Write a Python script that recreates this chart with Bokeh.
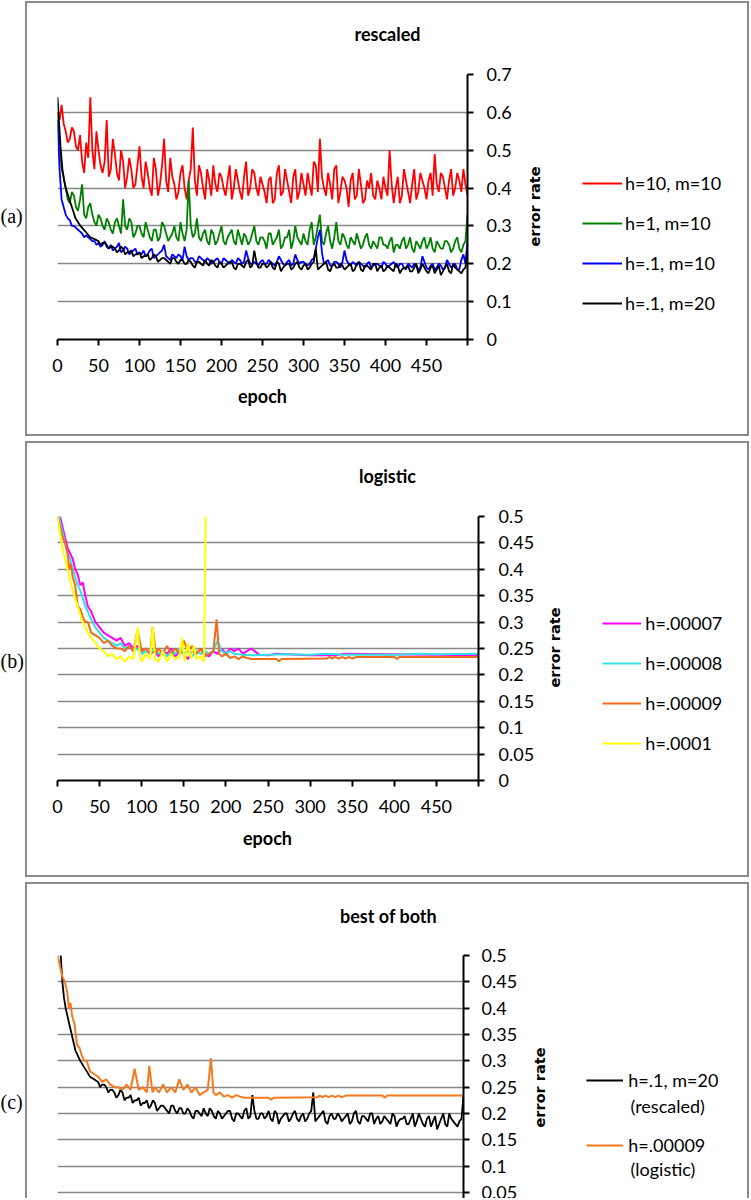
from bokeh.plotting import figure
from bokeh.models import (Range1d, FixedTicker, CustomJSTickFormatter, Label, Legend,
                          LegendItem, InlineStyleSheet)
from bokeh.embed import file_html
from bokeh.resources import INLINE
from math import pi

# ---------------- data ----------------
x_ticks = [0, 50, 100, 150, 200, 250, 300, 350, 400, 450, 500]
y_ticks_a = [0, 0.1, 0.2, 0.3, 0.4, 0.5, 0.6, 0.7]
y_ticks_bc = [0, 0.05, 0.1, 0.15, 0.2, 0.25, 0.3, 0.35, 0.4, 0.45, 0.5]

# panel (a) rescaled: readings at epochs 0,5,...,500 and in between (2.5, 7.5, ...)
epochs_5 = list(range(0, 501, 5))
epochs_mid = [e + 2.5 for e in range(0, 500, 5)]
red_h10_m10 = [
    0.60, 0.62, 0.55, 0.53, 0.55, 0.50, 0.47, 0.52, 0.64, 0.45,
    0.50, 0.44, 0.58, 0.45, 0.49, 0.42, 0.47, 0.43, 0.45, 0.41,
    0.51, 0.40, 0.44, 0.38, 0.45, 0.41, 0.53, 0.39, 0.43, 0.37,
    0.44, 0.40, 0.42, 0.56, 0.38, 0.44, 0.37, 0.42, 0.46, 0.39,
    0.43, 0.38, 0.46, 0.40, 0.42, 0.37, 0.47, 0.40, 0.44, 0.38,
    0.41, 0.36, 0.43, 0.37, 0.46, 0.39, 0.42, 0.36, 0.45, 0.39,
    0.41, 0.44, 0.38, 0.46, 0.53, 0.40, 0.44, 0.37, 0.46, 0.39,
    0.42, 0.35, 0.44, 0.38, 0.41, 0.37, 0.40, 0.38, 0.42, 0.37,
    0.40, 0.50, 0.36, 0.43, 0.38, 0.42, 0.36, 0.45, 0.39, 0.42,
    0.37, 0.44, 0.49, 0.39, 0.43, 0.37, 0.45, 0.40, 0.42, 0.45,
    0.38]
red_h10_m10_mid = [
    0.58, 0.57, 0.52, 0.56, 0.51, 0.54, 0.44, 0.48, 0.50, 0.55,
    0.46, 0.47, 0.43, 0.53, 0.44, 0.50, 0.40, 0.48, 0.40, 0.46,
    0.43, 0.47, 0.40, 0.48, 0.38, 0.46, 0.42, 0.48, 0.41, 0.39,
    0.46, 0.37, 0.45, 0.42, 0.46, 0.40, 0.45, 0.38, 0.41, 0.44,
    0.40, 0.42, 0.37, 0.45, 0.39, 0.43, 0.38, 0.45, 0.40, 0.43,
    0.39, 0.42, 0.36, 0.44, 0.38, 0.45, 0.39, 0.43, 0.37, 0.44,
    0.38, 0.41, 0.47, 0.39, 0.43, 0.38, 0.41, 0.45, 0.36, 0.43,
    0.40, 0.42, 0.37, 0.45, 0.36, 0.42, 0.44, 0.37, 0.40, 0.43,
    0.38, 0.41, 0.40, 0.36, 0.45, 0.39, 0.41, 0.37, 0.44, 0.40,
    0.42, 0.38, 0.41, 0.44, 0.40, 0.42, 0.38, 0.44, 0.39, 0.41]
green_h1_m10 = [
    0.60, 0.45, 0.40, 0.36, 0.38, 0.34, 0.41, 0.32, 0.36, 0.31,
    0.33, 0.30, 0.32, 0.29, 0.31, 0.30, 0.37, 0.29, 0.31, 0.28,
    0.30, 0.27, 0.29, 0.26, 0.29, 0.27, 0.30, 0.26, 0.28, 0.27,
    0.31, 0.26, 0.42, 0.27, 0.32, 0.26, 0.29, 0.25, 0.28, 0.26,
    0.30, 0.25, 0.28, 0.26, 0.29, 0.25, 0.27, 0.26, 0.30, 0.25,
    0.27, 0.24, 0.28, 0.26, 0.29, 0.25, 0.27, 0.24, 0.30, 0.26,
    0.28, 0.25, 0.31, 0.27, 0.33, 0.25, 0.30, 0.24, 0.31, 0.25,
    0.27, 0.24, 0.26, 0.28, 0.24, 0.27, 0.25, 0.26, 0.24, 0.27,
    0.25, 0.26, 0.23, 0.25, 0.26, 0.24, 0.27, 0.23, 0.25, 0.26,
    0.24, 0.27, 0.23, 0.25, 0.24, 0.26, 0.23, 0.26, 0.24, 0.25,
    0.33]
green_h1_m10_mid = [
    0.52, 0.43, 0.37, 0.39, 0.35, 0.37, 0.33, 0.35, 0.33, 0.30,
    0.32, 0.29, 0.31, 0.28, 0.32, 0.28, 0.30, 0.32, 0.27, 0.30,
    0.28, 0.31, 0.27, 0.29, 0.26, 0.31, 0.28, 0.27, 0.30, 0.26,
    0.28, 0.29, 0.30, 0.28, 0.27, 0.28, 0.26, 0.29, 0.25, 0.28,
    0.26, 0.27, 0.29, 0.25, 0.27, 0.28, 0.25, 0.28, 0.26, 0.27,
    0.26, 0.28, 0.25, 0.27, 0.24, 0.27, 0.29, 0.26, 0.27, 0.25,
    0.26, 0.29, 0.25, 0.30, 0.26, 0.28, 0.26, 0.27, 0.26, 0.28,
    0.25, 0.27, 0.25, 0.26, 0.25, 0.28, 0.24, 0.25, 0.27, 0.25,
    0.24, 0.27, 0.25, 0.24, 0.27, 0.25, 0.24, 0.26, 0.24, 0.27,
    0.25, 0.24, 0.26, 0.24, 0.26, 0.25, 0.24, 0.27, 0.23, 0.26]
blue_h01_m10 = [
    0.58, 0.37, 0.33, 0.315, 0.30, 0.29, 0.28, 0.275, 0.265, 0.26,
    0.255, 0.25, 0.245, 0.25, 0.24, 0.255, 0.235, 0.24, 0.23, 0.24,
    0.23, 0.235, 0.225, 0.24, 0.22, 0.23, 0.25, 0.215, 0.225, 0.215,
    0.22, 0.245, 0.21, 0.215, 0.205, 0.215, 0.205, 0.21, 0.205, 0.215,
    0.20, 0.21, 0.20, 0.205, 0.215, 0.20, 0.235, 0.20, 0.205, 0.195,
    0.21, 0.20, 0.205, 0.195, 0.22, 0.20, 0.205, 0.195, 0.225, 0.20,
    0.205, 0.195, 0.21, 0.24, 0.29, 0.20, 0.21, 0.195, 0.205, 0.19,
    0.235, 0.20, 0.205, 0.195, 0.20, 0.19, 0.205, 0.195, 0.20, 0.19,
    0.20, 0.195, 0.205, 0.19, 0.20, 0.185, 0.195, 0.20, 0.185, 0.22,
    0.19, 0.195, 0.185, 0.20, 0.185, 0.21, 0.19, 0.20, 0.185, 0.225,
    0.26]
blue_h01_m10_mid = [
    0.45, 0.35, 0.32, 0.30, 0.295, 0.285, 0.27, 0.27, 0.26, 0.25,
    0.245, 0.26, 0.24, 0.235, 0.245, 0.23, 0.245, 0.225, 0.235, 0.225,
    0.225, 0.22, 0.235, 0.215, 0.225, 0.235, 0.22, 0.21, 0.22, 0.225,
    0.21, 0.22, 0.215, 0.205, 0.22, 0.21, 0.215, 0.20, 0.21, 0.205,
    0.215, 0.205, 0.21, 0.20, 0.21, 0.205, 0.215, 0.20, 0.20, 0.205,
    0.20, 0.21, 0.20, 0.205, 0.21, 0.195, 0.21, 0.20, 0.21, 0.205,
    0.20, 0.20, 0.215, 0.27, 0.23, 0.205, 0.195, 0.205, 0.20, 0.205,
    0.21, 0.195, 0.20, 0.205, 0.195, 0.20, 0.19, 0.20, 0.195, 0.205,
    0.19, 0.20, 0.195, 0.20, 0.19, 0.20, 0.19, 0.195, 0.19, 0.205,
    0.185, 0.20, 0.19, 0.195, 0.19, 0.20, 0.195, 0.185, 0.21, 0.20]
epochs_black = [0, 2, 4, 6, 8, 10, 13, 16, 19, 22, 25, 28, 32, 36, 40, 45, 50] + list(range(55, 501, 5))
black_h01_m20 = [
    0.64, 0.57, 0.50, 0.45, 0.42, 0.40, 0.38, 0.36, 0.34, 0.32,
    0.31, 0.30, 0.29, 0.28, 0.27, 0.265, 0.26,
    0.255, 0.25, 0.245, 0.24, 0.235, 0.24, 0.23, 0.235, 0.225, 0.23,
    0.22, 0.225, 0.215, 0.22, 0.21, 0.215, 0.205, 0.215, 0.205, 0.21,
    0.20, 0.21, 0.195, 0.205, 0.20, 0.21, 0.195, 0.205, 0.19, 0.20,
    0.195, 0.205, 0.19, 0.20, 0.195, 0.205, 0.19, 0.235, 0.19, 0.20,
    0.19, 0.205, 0.185, 0.20, 0.19, 0.20, 0.185, 0.20, 0.19, 0.195,
    0.185, 0.20, 0.24, 0.19, 0.20, 0.185, 0.195, 0.19, 0.20, 0.185,
    0.195, 0.18, 0.20, 0.185, 0.195, 0.19, 0.20, 0.18, 0.195, 0.185,
    0.19, 0.18, 0.195, 0.185, 0.19, 0.18, 0.19, 0.175, 0.20, 0.18,
    0.19, 0.175, 0.195, 0.18, 0.20, 0.175, 0.19, 0.18, 0.185, 0.235]
epochs_black_mid = [e + 2.5 for e in range(50, 500, 5)]
black_h01_m20_mid = [
    0.25, 0.255, 0.24, 0.245, 0.23, 0.245, 0.225, 0.23, 0.22, 0.225,
    0.215, 0.22, 0.21, 0.225, 0.205, 0.215, 0.21, 0.20, 0.215, 0.20,
    0.21, 0.20, 0.205, 0.19, 0.205, 0.195, 0.20, 0.21, 0.195, 0.205,
    0.19, 0.20, 0.205, 0.185, 0.20, 0.19, 0.21, 0.195, 0.205, 0.19,
    0.20, 0.195, 0.19, 0.205, 0.18, 0.195, 0.20, 0.19, 0.205, 0.185,
    0.20, 0.19, 0.205, 0.185, 0.195, 0.205, 0.18, 0.20, 0.19, 0.195,
    0.19, 0.20, 0.185, 0.205, 0.18, 0.195, 0.185, 0.20, 0.19, 0.18,
    0.195, 0.185, 0.20, 0.175, 0.19, 0.195, 0.18, 0.20, 0.185, 0.19,
    0.175, 0.195, 0.185, 0.17, 0.19, 0.18, 0.20, 0.185, 0.175, 0.19]

# panel (b) logistic
epochs_h7 = [0, 3, 6, 9, 12, 15, 18, 21, 24, 27, 30, 33, 36] + list(range(40, 231, 5)) + [240, 250, 260, 300, 330, 340, 500]
mag_h00007 = [
    0.53, 0.50, 0.48, 0.46, 0.44, 0.43, 0.42, 0.40, 0.39, 0.37, 0.375, 0.35, 0.33,
    0.32, 0.30, 0.29, 0.28, 0.275, 0.27, 0.265, 0.27, 0.255, 0.26,
    0.25, 0.255, 0.245, 0.25, 0.24, 0.245, 0.235, 0.245, 0.24, 0.25,
    0.235, 0.245, 0.24, 0.23, 0.245, 0.24, 0.25, 0.24, 0.235, 0.245,
    0.24, 0.25, 0.24, 0.25, 0.245, 0.25, 0.24, 0.245, 0.25, 0.238,
    0.237, 0.24, 0.237, 0.237, 0.24, 0.237, 0.237]
epochs_h8 = [0, 3, 6, 9, 12, 15, 18, 21, 24, 27, 30, 33, 36] + list(range(40, 211, 5)) + [220, 230, 250, 270, 300, 320, 340, 400, 430, 450, 500]
cyan_h00008 = [
    0.52, 0.49, 0.47, 0.45, 0.43, 0.42, 0.40, 0.385, 0.37, 0.36, 0.345, 0.33, 0.32,
    0.305, 0.29, 0.28, 0.27, 0.265, 0.26, 0.255, 0.26, 0.25, 0.255,
    0.245, 0.25, 0.24, 0.245, 0.24, 0.25, 0.24, 0.245, 0.235, 0.245,
    0.24, 0.25, 0.24, 0.245, 0.235, 0.245, 0.24, 0.245, 0.24, 0.245,
    0.265, 0.245, 0.24, 0.245, 0.24,
    0.238, 0.237, 0.238, 0.239, 0.238, 0.24, 0.238, 0.238, 0.24, 0.239, 0.24]
epochs_h9 = [0, 3, 6, 9, 12, 14, 16, 18, 21, 24, 27, 30, 33, 36, 40, 45, 50, 55, 60, 65,
             70, 75, 80, 85, 90, 95, 100, 105, 110, 113, 117, 120, 125, 130, 135, 140, 145, 150, 155, 160,
             165, 170, 175, 180, 185, 189, 192, 195, 200, 205, 210, 215, 220, 225, 230, 260, 263, 266, 320, 323,
             326, 330, 334, 338, 342, 346, 350, 355, 400, 403, 406, 500]
orange_h00009 = [
    0.50, 0.48, 0.46, 0.45, 0.43, 0.40, 0.41, 0.385, 0.37, 0.33, 0.325, 0.31, 0.30, 0.30, 0.28, 0.275, 0.27, 0.26, 0.265, 0.255,
    0.25, 0.25, 0.245, 0.255, 0.245, 0.285, 0.245, 0.25, 0.24, 0.29, 0.24, 0.25, 0.24, 0.255, 0.24, 0.25, 0.24, 0.265, 0.245, 0.255,
    0.24, 0.25, 0.235, 0.24, 0.245, 0.305, 0.24, 0.235, 0.24, 0.232, 0.235, 0.23, 0.235, 0.232, 0.23, 0.23, 0.226, 0.23, 0.231, 0.234,
    0.231, 0.234, 0.231, 0.234, 0.231, 0.234, 0.231, 0.234, 0.234, 0.230, 0.234, 0.234]
epochs_h10 = [0, 3, 6, 9, 12, 15, 18, 21, 24, 27, 30, 33, 36, 40, 45, 50, 55, 60, 65, 70,
              75, 80, 85, 90, 95, 98, 100, 105, 110, 113, 116, 120, 125, 130, 135, 140, 145, 148, 151, 155,
              158, 162, 165, 170, 174, 176]
yellow_h0001 = [
    0.50, 0.47, 0.44, 0.42, 0.40, 0.38, 0.36, 0.345, 0.33, 0.315, 0.30, 0.29, 0.28, 0.27, 0.26, 0.25, 0.245, 0.235, 0.24, 0.23,
    0.235, 0.225, 0.235, 0.23, 0.29, 0.235, 0.225, 0.24, 0.23, 0.29, 0.23, 0.225, 0.245, 0.225, 0.24, 0.23, 0.235, 0.27, 0.225, 0.26,
    0.23, 0.255, 0.23, 0.235, 0.225, 0.50]

legend_a = ["h=10, m=10", "h=1, m=10", "h=.1, m=10", "h=.1, m=20"]
legend_b = ["h=.00007", "h=.00008", "h=.00009", "h=.0001"]
legend_c = ["h=.1, m=20", "h=.00009"]
legend_c_sub = ["(rescaled)", "(logistic)"]


def merged(xs1, ys1, xs2, ys2):
    pts = sorted(zip(list(xs1) + list(xs2), list(ys1) + list(ys2)))
    return [p[0] for p in pts], [p[1] for p in pts]


red_x, red_y = merged(epochs_5, red_h10_m10, epochs_mid, red_h10_m10_mid)
green_x, green_y = merged(epochs_5, green_h1_m10, epochs_mid, green_h1_m10_mid)
blue_x, blue_y = merged(epochs_5, blue_h01_m10, epochs_mid, blue_h01_m10_mid)
black_x, black_y = merged(epochs_black, black_h01_m20, epochs_black_mid, black_h01_m20_mid)

# ---------------- styling ----------------
W = 750
FONT = "Lato"
GRID = "#878787"
BOXC = "#8a8a8a"


def box_css(left, top, width, height, bottom_border=True):
    bb = "" if bottom_border else "border-bottom: none;"
    return InlineStyleSheet(css=(
        ":host { position: relative; max-width: 750px !important; overflow: hidden !important; }\n"
        ":host::after { content: ''; position: absolute; "
        f"left: {left}px; top: {top}px; width: {width}px; height: {height}px; "
        f"box-sizing: border-box; border: 2px solid {BOXC}; {bb} "
        "pointer-events: none; z-index: 5; }"))


def make_panel(H, fl, fr, ft, fb, y0, y1, yticks, ystandoff, lstandoff, show_x=True):
    p = figure(frame_width=fr - fl, frame_height=fb - ft,
               output_backend="svg", toolbar_location=None,
               x_range=Range1d(0, 500), y_range=Range1d(y0, y1),
               y_axis_location="right",
               min_border_left=fl, min_border_right=W - fr,
               min_border_top=ft, min_border_bottom=H - fb)
    p.outline_line_color = None
    p.background_fill_color = "white"
    p.border_fill_color = "white"
    p.xgrid.visible = False
    yt = FixedTicker(ticks=yticks)
    p.yaxis[0].ticker = yt
    p.ygrid[0].ticker = yt
    p.ygrid.grid_line_color = GRID
    p.ygrid.grid_line_width = 1.6
    p.yaxis.formatter = CustomJSTickFormatter(code="return String(Math.round(tick*100)/100);")
    for ax in (p.xaxis, p.yaxis):
        ax.axis_line_color = "black"
        ax.axis_line_width = 2
        ax.major_tick_line_color = "black"
        ax.major_tick_line_width = 2
        ax.major_tick_out = 6
        ax.major_tick_in = 0
        ax.minor_tick_line_color = None
        ax.major_label_text_font = FONT
        ax.major_label_text_font_size = "18px"
        ax.major_label_text_color = "black"
    yax = p.yaxis[0]
    yax.major_label_standoff = ystandoff
    # keeps the axis panel width; the visible axis title is drawn as a Label
    yax.axis_label = "error rate"
    yax.axis_label_text_font = "DejaVu Sans"
    yax.axis_label_text_font_size = "14.5px"
    yax.axis_label_text_font_style = "bold"
    yax.axis_label_text_color = None
    yax.axis_label_standoff = lstandoff
    try:
        yax.axis_label_orientation = pi / 2
    except Exception:
        pass
    p.xaxis.ticker = FixedTicker(ticks=x_ticks)
    p.xaxis.major_label_overrides = {500: ""}
    p.xaxis.major_label_standoff = 13
    if not show_x:
        p.xaxis.visible = False

    def dx(cx):
        return (cx - fl) / (fr - fl) * 500.0

    def dy(cy):
        return y0 + (fb - cy) / (fb - ft) * (y1 - y0)

    p._dx = dx
    p._dy = dy
    return p


def add_text(p, side, cx, cy, text, size="18px", bold=False, font=FONT, align="center", angle=0.0):
    p.add_layout(Label(x=p._dx(cx), y=p._dy(cy), text=text, text_font=font,
                       text_font_size=size, text_font_style="bold" if bold else "normal",
                       text_align=align, text_baseline="middle", angle=angle,
                       text_color="black"), side)


def add_legend(p, renderers, labels, xoff, yoff, glyph_w, standoff, spacing):
    items = [LegendItem(label=l, renderers=[r]) for l, r in zip(labels, renderers)]
    lg = Legend(items=items, location=(xoff, yoff), orientation="vertical",
                glyph_width=glyph_w, glyph_height=24, label_height=24, label_width=20,
                spacing=spacing, padding=0, margin=0, label_standoff=standoff,
                border_line_color=None, background_fill_alpha=0,
                label_text_font=FONT, label_text_font_size="18px", label_text_color="black")
    p.add_layout(lg, "right")


def add_ytitle(p, cx, cy):
    add_text(p, "right", cx, cy, "error rate", size="14.5px", bold=True,
             font="DejaVu Sans", angle=pi / 2)


# ---------------- panel (a) ----------------
pa = make_panel(440, 57, 467, 74, 339, 0, 0.7, y_ticks_a, 13, 14)
r1 = pa.line(red_x, red_y, line_color="#ff0000", line_width=1.8)
r2 = pa.line(green_x, green_y, line_color="#008000", line_width=1.8)
r3 = pa.line(blue_x, blue_y, line_color="#0000ff", line_width=1.8)
r4 = pa.line(black_x, black_y, line_color="black", line_width=1.8)
add_legend(pa, [r1, r2, r3, r4], legend_a, 19, 24, 40, 3, 16)
add_ytitle(pa, 534, 206)
add_text(pa, "above", 387, 33, "rescaled", bold=True)
add_text(pa, "below", 262, 395, "epoch", bold=True)
add_text(pa, "left", 0, 215, "(a)", size="20px", font="Liberation Serif", align="left")
pa.stylesheets = [box_css(25, 1, 724, 435)]

# ---------------- panel (b) ----------------
pb = make_panel(438, 57, 478, 76, 340, 0, 0.5, y_ticks_bc, 14, 12)
s1 = pb.line(epochs_h7, mag_h00007, line_color="#ff00ff", line_width=2)
s2 = pb.line(epochs_h8, cyan_h00008, line_color="#33e0e0", line_width=2)
s3 = pb.line(epochs_h9, orange_h00009, line_color="#f26a1b", line_width=2)
s4 = pb.line(epochs_h10, yellow_h0001, line_color="#ffff00", line_width=2)
add_legend(pb, [s1, s2, s3, s4], legend_b, 19, 25, 39, 4, 16)
add_ytitle(pb, 554, 207)
add_text(pb, "above", 387, 35, "logistic", bold=True)
add_text(pb, "below", 267, 397, "epoch", bold=True)
add_text(pb, "left", 0, 220, "(b)", size="20px", font="Liberation Serif", align="left")
pb.stylesheets = [box_css(25, 1, 724, 436)]

# ---------------- panel (c) ----------------
H3 = 320
ystart_c = 0.5 - (H3 - 77) / 526.7
pc = make_panel(H3, 57, 463, 77, H3, ystart_c, 0.5, y_ticks_bc, 12, 14, show_x=False)
t1 = pc.line(black_x, black_y, line_color="black", line_width=1.8)
t2 = pc.line(epochs_h9, orange_h00009, line_color="#f57a1f", line_width=2)
add_legend(pc, [t1, t2], legend_c, 17, 41, 37, 5, 41)
add_ytitle(pc, 539, 209)
add_text(pc, "above", 388, 37, "best of both", bold=True)
add_text(pc, "left", 0, 223, "(c)", size="20px", font="Liberation Serif", align="left")
add_text(pc, "above", 630, 227, legend_c_sub[0], align="left")
add_text(pc, "above", 630, 290, legend_c_sub[1], align="left")
pc.stylesheets = [box_css(25, 4, 724, H3 - 4, bottom_border=False)]

open("out.html", "w").write(file_html([pa, pb, pc], INLINE))
